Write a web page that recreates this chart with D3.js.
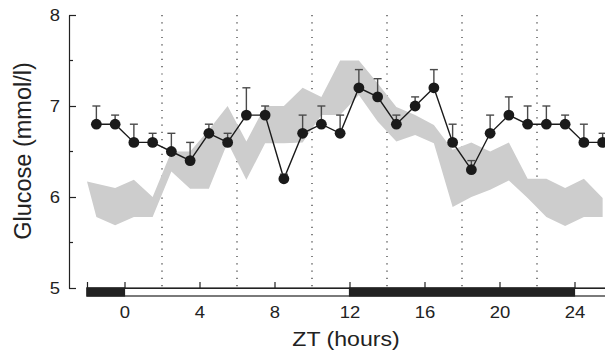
<!DOCTYPE html>
<html>
<head>
<meta charset="utf-8">
<script src="https://cdn.jsdelivr.net/npm/d3@7"></script>
<style>
  html, body { margin: 0; padding: 0; background: #fff; }
  svg { display: block; font-family: "Liberation Sans", Arial, Helvetica, sans-serif; }
</style>
</head>
<body>
<svg id="chart" width="605" height="353"></svg>
<script>
// Sampling times (ZT hours) and blood glucose, mean and upward SEM
const hours = [-1.5, -0.5, 0.5, 1.5, 2.5, 3.5, 4.5, 5.5, 6.5, 7.5, 8.5, 9.5, 10.5, 11.5,
               12.5, 13.5, 14.5, 15.5, 16.5, 17.5, 18.5, 19.5, 20.5, 21.5, 22.5, 23.5, 24.5, 25.5];
const glucoseMean = [6.8, 6.8, 6.6, 6.6, 6.5, 6.4, 6.7, 6.6, 6.9, 6.9, 6.2, 6.7, 6.8, 6.7,
                     7.2, 7.1, 6.8, 7.0, 7.2, 6.6, 6.3, 6.7, 6.9, 6.8, 6.8, 6.8, 6.6, 6.6];
const glucoseSem = [0.2, 0.1, 0.2, 0.1, 0.2, 0.2, 0.1, 0.1, 0.3, 0.1, 0.05, 0.2, 0.2, 0.2,
                    0.2, 0.2, 0.1, 0.1, 0.2, 0.2, 0.1, 0.2, 0.2, 0.2, 0.2, 0.1, 0.2, 0.1];

// Reference range (shaded band), upper and lower limits at the same times
const bandUpper = [6.17, 6.10, 6.19, 6.00, 6.50, 6.50, 6.74, 7.00, 6.61, 7.00, 7.00, 7.20, 7.10, 7.50,
                   7.50, 7.25, 6.99, 6.90, 6.79, 6.52, 6.60, 6.50, 6.60, 6.20, 6.20, 6.10, 6.20, 5.99];
const bandLower = [5.78, 5.69, 5.78, 5.78, 6.28, 6.09, 6.09, 6.60, 6.19, 6.59, 6.59, 6.60, 6.90, 6.90,
                   7.12, 6.83, 6.61, 6.68, 6.59, 5.89, 6.00, 6.08, 6.18, 5.99, 5.78, 5.68, 5.78, 5.78];

// Light/dark schedule shown under the x axis
const darkPeriods = [[-2, 0], [12, 24]];
const barExtent = [-2, 26];

// Axis ticks and guide lines
const xTicks = [0, 4, 8, 12, 16, 20, 24];
const yTicks = [5, 6, 7, 8];
const yMinorTicks = [5.5, 6.5, 7.5];
const guideHours = [2, 6, 10, 14, 18, 22];

const svg = d3.select("#chart");
const ink = "#222";

const x = d3.scaleLinear().domain([-2, 26]).range([87, 612]);
const y = d3.scaleLinear().domain([5, 8]).range([288, 15]);

const points = hours.map((h, i) => ({ h, mean: glucoseMean[i], sem: glucoseSem[i] }));
const band = hours.map((h, i) => ({ h, hi: bandUpper[i], lo: bandLower[i] }));

// Dotted vertical guides
svg.append("g")
  .selectAll("line")
  .data(guideHours)
  .join("line")
  .attr("x1", d => x(d)).attr("x2", d => x(d))
  .attr("y1", y(8)).attr("y2", y(5))
  .attr("stroke", "#333")
  .attr("stroke-width", 1.2)
  .attr("stroke-dasharray", "1.2,6.1");

// Shaded reference band; its upper edge starts at the left end of the time bar
const area = d3.area()
  .x0(d => x(d.h))
  .x1((d, i) => i === 0 ? x(barExtent[0]) : x(d.h))
  .y0(d => y(d.lo))
  .y1(d => y(d.hi));
svg.append("path")
  .datum(band)
  .attr("d", area)
  .attr("fill", "#cdcdcd");

// Connecting line
svg.append("path")
  .datum(points)
  .attr("d", d3.line().x(d => x(d.h)).y(d => y(d.mean)))
  .attr("fill", "none")
  .attr("stroke", "#1a1a1a")
  .attr("stroke-width", 1.4);

// Upward error bars with caps
const err = svg.append("g").attr("stroke", "#4a4a4a").attr("stroke-width", 1.4);
err.selectAll("line.stem")
  .data(points)
  .join("line")
  .attr("class", "stem")
  .attr("x1", d => x(d.h)).attr("x2", d => x(d.h))
  .attr("y1", d => y(d.mean)).attr("y2", d => y(d.mean + d.sem));
err.selectAll("line.cap")
  .data(points)
  .join("line")
  .attr("class", "cap")
  .attr("x1", d => x(d.h) - 4).attr("x2", d => x(d.h) + 4)
  .attr("y1", d => y(d.mean + d.sem)).attr("y2", d => y(d.mean + d.sem));

// Mean markers
svg.append("g")
  .selectAll("circle")
  .data(points)
  .join("circle")
  .attr("cx", d => x(d.h))
  .attr("cy", d => y(d.mean))
  .attr("r", 5.4)
  .attr("fill", "#1a1a1a");

// Y axis
const yAxis = svg.append("g")
  .attr("transform", `translate(69,0)`)
  .call(d3.axisRight(y).tickValues(yTicks).tickSize(7).tickSizeOuter(0).tickFormat(d3.format("d")));
yAxis.select(".domain").attr("stroke", ink).attr("stroke-width", 1.2);
yAxis.selectAll(".tick line").attr("stroke", ink).attr("stroke-width", 1.2);
yAxis.selectAll(".tick text")
  .attr("x", -8)
  .attr("text-anchor", "end")
  .attr("transform", "scale(1.12,1)")
  .attr("font-size", 16.5)
  .attr("fill", ink);
yAxis.append("g")
  .selectAll("line")
  .data(yMinorTicks)
  .join("line")
  .attr("x1", 0).attr("x2", 4)
  .attr("y1", d => y(d)).attr("y2", d => y(d))
  .attr("stroke", ink).attr("stroke-width", 1.2);

// Light/dark bar
const barTop = y(5), barH = 8;
svg.append("rect")
  .attr("x", x(barExtent[0])).attr("y", barTop)
  .attr("width", x(barExtent[1]) - x(barExtent[0])).attr("height", barH)
  .attr("fill", "#fff").attr("stroke", ink).attr("stroke-width", 1.2);
svg.append("g")
  .selectAll("rect")
  .data(darkPeriods)
  .join("rect")
  .attr("x", d => x(d[0])).attr("y", barTop)
  .attr("width", d => x(d[1]) - x(d[0])).attr("height", barH)
  .attr("fill", ink).attr("stroke", ink).attr("stroke-width", 1.2);

// X axis: ticks rise from the bar, labels sit below it
const xAxis = svg.append("g")
  .attr("transform", `translate(0,${barTop})`)
  .call(d3.axisBottom(x).tickValues(xTicks).tickSize(-6).tickSizeOuter(-6).tickPadding(18.4));
xAxis.select(".domain").attr("stroke", ink).attr("stroke-width", 1.2);
xAxis.selectAll(".tick line").attr("stroke", ink).attr("stroke-width", 1.2);
xAxis.selectAll(".tick text")
  .attr("transform", "scale(1.12,1)")
  .attr("font-size", 16.5)
  .attr("fill", ink);

// Axis titles
svg.append("text")
  .attr("transform", "translate(346,346) scale(1.1,1)")
  .attr("text-anchor", "middle")
  .attr("font-size", 21)
  .attr("fill", ink)
  .text("ZT (hours)");
svg.append("text")
  .attr("transform", "translate(31,151) rotate(-90)")
  .attr("text-anchor", "middle")
  .attr("font-size", 23.5)
  .attr("fill", ink)
  .text("Glucose (mmol/l)");
</script>
</body>
</html>
